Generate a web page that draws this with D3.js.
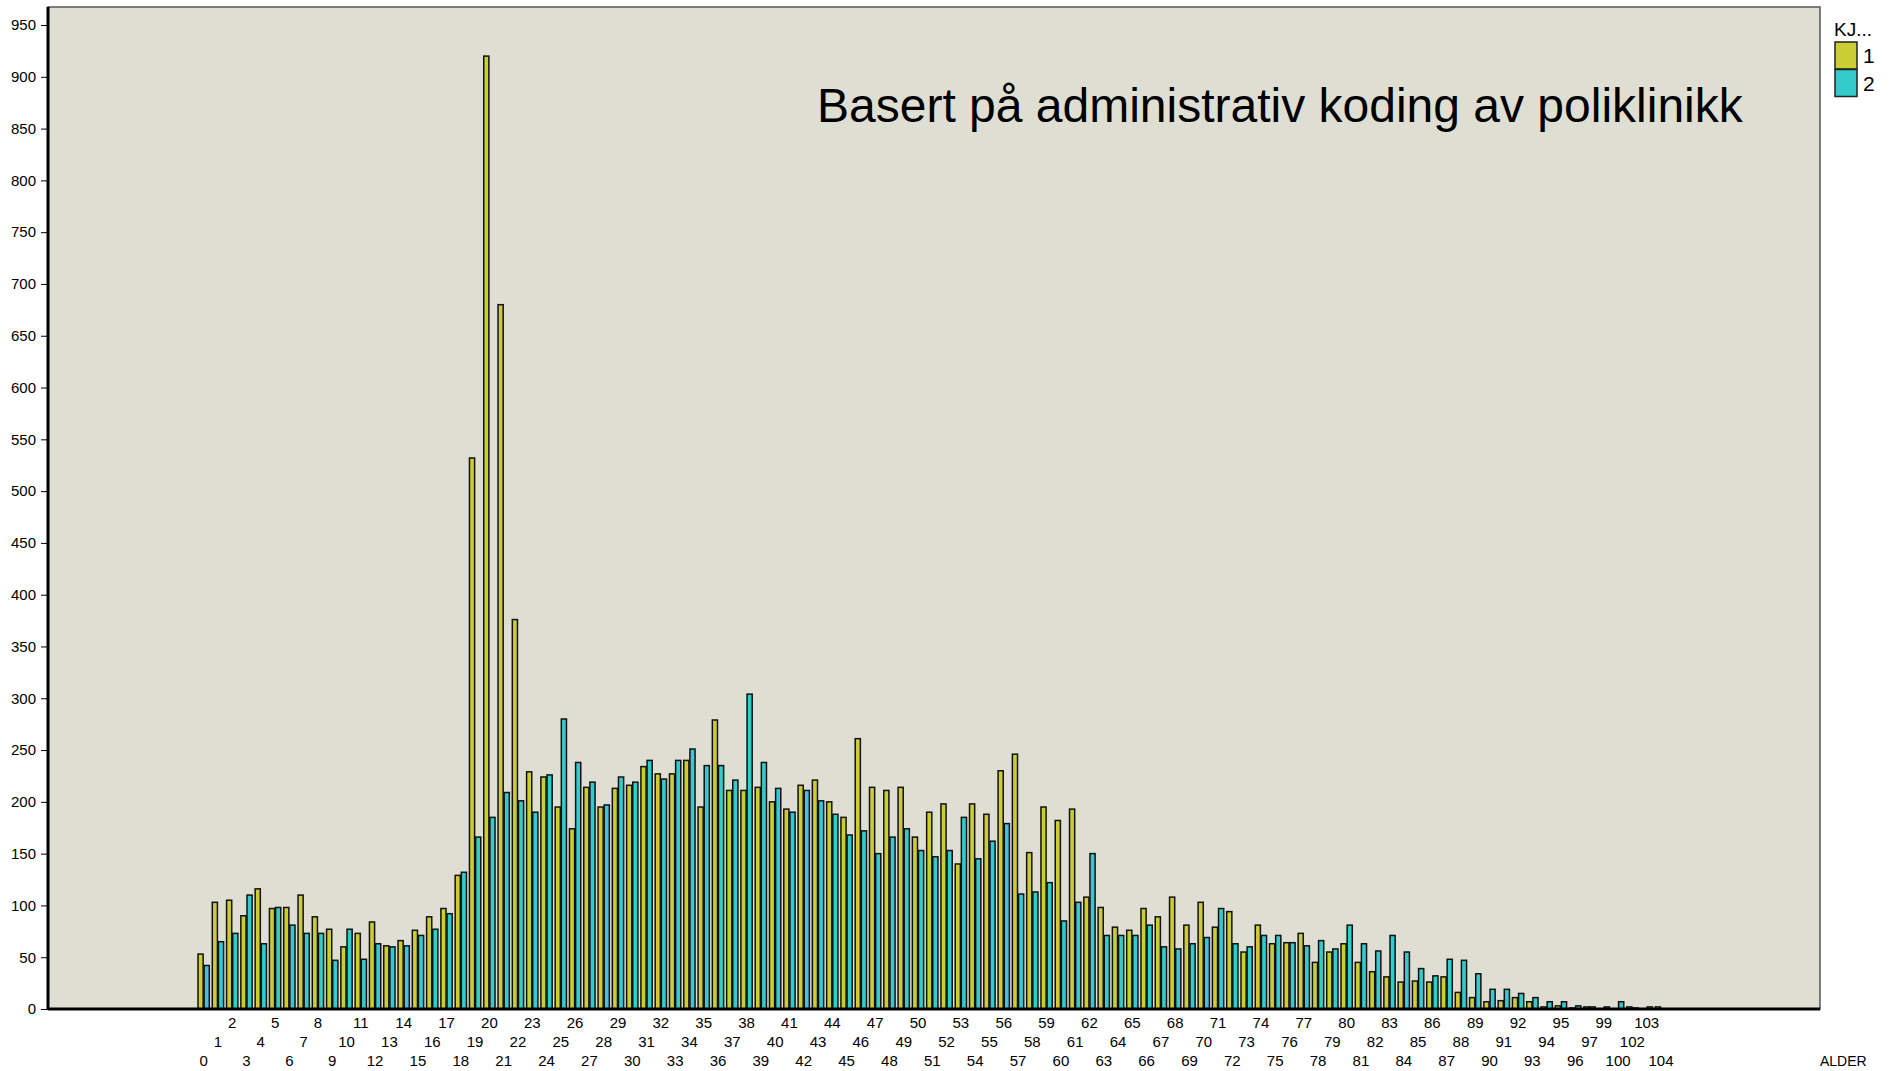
<!DOCTYPE html>
<html><head><meta charset="utf-8">
<script src="https://cdn.jsdelivr.net/npm/d3@7"></script>
<style>
html,body{margin:0;padding:0;background:#fff;}
svg text{font-family:"Liberation Sans",Arial,sans-serif;}
</style></head>
<body>
<svg id="c" width="1890" height="1071"></svg>
<script>
const ages = [0,1,2,3,4,5,6,7,8,9,10,11,12,13,14,15,16,17,18,19,20,21,22,23,24,25,26,27,28,29,30,31,32,33,34,35,36,37,38,39,40,41,42,43,44,45,46,47,48,49,50,51,52,53,54,55,56,57,58,59,60,61,62,63,64,65,66,67,68,69,70,71,72,73,74,75,76,77,78,79,80,81,82,83,84,85,86,87,88,89,90,91,92,93,94,95,96,97,99,100,102,103,104];
const kj1 = [53,103,105,90,116,97,98,110,89,77,60,73,84,61,66,76,89,97,129,532,920,680,376,229,224,195,174,214,195,213,216,234,227,227,240,195,279,211,211,214,200,193,216,221,200,185,261,214,211,214,166,190,198,140,198,188,230,246,151,195,182,193,108,98,79,76,97,89,108,81,103,79,94,55,81,63,64,73,45,55,63,45,36,31,26,27,26,31,16,11,7,8,11,7,2,3,1,2,0,0,2,0,2];
const kj2 = [42,65,73,110,63,98,81,73,73,47,77,48,63,60,61,71,77,92,132,166,185,209,201,190,226,280,238,219,197,224,219,240,222,240,251,235,235,221,304,238,213,190,211,201,188,168,172,150,166,174,153,147,153,185,145,162,179,111,113,122,85,103,150,71,71,71,81,60,58,63,69,97,63,60,71,71,64,61,66,58,81,63,56,71,55,39,32,48,47,34,19,19,15,11,7,7,3,2,2,7,1,2,0];
const seriesNames = ["1","2"];
const yTicks = d3.range(0, 951, 50);
const titleText = "Basert på administrativ koding av poliklinikk";
const legendTitle = "KJ...";
const xAxisTitle = "ALDER";

const colors = ["#CCCC33", "#33CCCC"];
const svg = d3.select("#c");
const P = {left:48, right:1820, top:7, bottom:1009};

// plot background
svg.append("rect").attr("x",P.left).attr("y",P.top).attr("width",P.right-P.left).attr("height",P.bottom-P.top)
  .attr("fill","#DEDED3").attr("stroke","#555").attr("stroke-width",1.5);

const x = d3.scaleBand().domain(ages.map(String)).range([196.5, 1668.1]).paddingInner(0.14).paddingOuter(0.07);
const xs = d3.scaleBand().domain(seriesNames).range([0, x.bandwidth()]);
const y = d3.scaleLinear().domain([0, 967.4]).range([P.bottom, P.top]);

const data = ages.map((a,i)=>({age:String(a), vals:[kj1[i], kj2[i]]}));
const g = svg.append("g");
data.forEach(d=>{
  d.vals.forEach((v,k)=>{
    if(v<=0) return;
    g.append("rect")
      .attr("x", x(d.age)+xs(seriesNames[k])+0.5)
      .attr("y", y(v))
      .attr("width", xs.bandwidth()-1)
      .attr("height", P.bottom - y(v))
      .attr("fill", colors[k]).attr("stroke","#111").attr("stroke-width",1.5);
  });
});

// y axis
const ya = svg.append("g").attr("transform",`translate(${P.left},0)`)
  .call(d3.axisLeft(y).tickValues(yTicks).tickSize(7).tickPadding(5));
ya.select(".domain").remove();
ya.selectAll("text").attr("font-size",15).attr("fill","#000");
ya.selectAll("line").attr("stroke","#000");

// x axis
const xa = svg.append("g").attr("transform",`translate(0,${P.bottom})`)
  .call(d3.axisBottom(x).tickSize(0).tickPadding(0));
xa.select(".domain").remove();
xa.selectAll("text").attr("font-size",15).attr("fill","#000")
  .attr("dy",(d,i)=>{const r=i%3; return r===2? "18.5px" : (r===1? "38px" : "57px");});

// thick axis lines
svg.append("line").attr("x1",P.left).attr("x2",P.left).attr("y1",P.top).attr("y2",P.bottom+1).attr("stroke","#000").attr("stroke-width",3);
svg.append("line").attr("x1",P.left).attr("x2",P.right).attr("y1",P.bottom).attr("y2",P.bottom).attr("stroke","#000").attr("stroke-width",3);

// title
svg.append("text").attr("x",817).attr("y",122).attr("font-size",48).attr("fill","#000").text(titleText);

// legend
svg.append("text").attr("x",1834).attr("y",36).attr("font-size",19).attr("fill","#000").text(legendTitle);
seriesNames.forEach((s,k)=>{
  svg.append("rect").attr("x",1835).attr("y",42+k*27.5).attr("width",22).attr("height",27)
    .attr("fill",colors[k]).attr("stroke","#222").attr("stroke-width",1.5);
  svg.append("text").attr("x",1863).attr("y",63+k*27.5).attr("font-size",21).attr("fill","#000").text(s);
});

// x axis title
svg.append("text").attr("x",1820).attr("y",1066).attr("font-size",14).attr("fill","#000").text(xAxisTitle);
</script>
</body></html>
